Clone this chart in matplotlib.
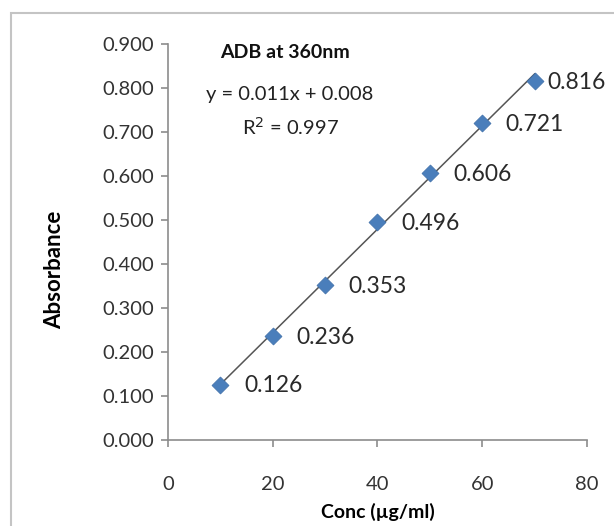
import numpy as np
import matplotlib
matplotlib.use("Agg")
import matplotlib.pyplot as plt
from matplotlib.patches import Rectangle

conc = [10, 20, 30, 40, 50, 60, 70]
absorbance = [0.126, 0.236, 0.353, 0.496, 0.606, 0.721, 0.816]
labels = ["0.126", "0.236", "0.353", "0.496", "0.606", "0.721", "0.816"]
y_ticks = [0.0, 0.1, 0.2, 0.3, 0.4, 0.5, 0.6, 0.7, 0.8, 0.9]
x_ticks = [0, 20, 40, 60, 80]

plt.rcParams['font.family'] = ['Lato', 'DejaVu Sans']

fig = plt.figure(figsize=(6.14, 5.26), dpi=100)
ax = fig.add_axes([0.2736, 0.1635, 0.6824, 0.7529])

# outer chart frame (left and top edges visible)
fig.patches.append(Rectangle((11 / 614, -0.1), 1.2, 1 - 12.5 / 526 + 0.1,
                             transform=fig.transFigure, fill=False,
                             edgecolor="#c4c4c4", linewidth=1.5))

# linear trendline
coef = np.polyfit(conc, absorbance, 1)
xs = np.array([conc[0], conc[-1]])
ax.plot(xs, np.polyval(coef, xs), color="#555555", linewidth=1.1, zorder=2)

ax.scatter(conc, absorbance, marker="D", s=75, color="#4a7ebb",
           edgecolors="#3f6fa8", linewidths=0.5, zorder=3)

for i, (x, y, t) in enumerate(zip(conc, absorbance, labels)):
    dx = 9 if i == len(conc) - 1 else 17
    ax.annotate(t, (x, y), xytext=(dx, -1), textcoords="offset points",
                ha="left", va="center", fontsize=16.5, color="#2a2a2a")

ax.set_xlim(0, 80)
ax.set_ylim(0, 0.9)
ax.set_xticks(x_ticks)
ax.set_yticks(y_ticks)
ax.set_yticklabels(["%.3f" % v for v in y_ticks])

for s in ["top", "right"]:
    ax.spines[s].set_visible(False)
for s in ["left", "bottom"]:
    ax.spines[s].set_color("#8c8c8c")
    ax.spines[s].set_linewidth(1.2)
ax.tick_params(axis="both", colors="#8c8c8c", length=5, width=1.2,
               labelsize=14.5, labelcolor="#333333")
ax.tick_params(axis="x", pad=21)
ax.tick_params(axis="y", pad=5)

ax.set_xlabel("Conc (µg/ml)", fontsize=14, fontweight="bold", labelpad=7)
ax.set_ylabel("Absorbance", fontsize=16, fontweight="bold")
ax.yaxis.set_label_coords(-0.245, 0.43)

fig.text(285 / 614, 1 - 52 / 526, "ADB at 360nm", ha="center", va="center",
         fontsize=14, fontweight="bold", color="#111111")
fig.text(290 / 614, 1 - 95 / 526, "y = 0.011x + 0.008", ha="center",
         va="center", fontsize=14.5, color="#222222")
fig.text(290 / 614, 1 - 127 / 526, "R$^2$ = 0.997", ha="center",
         va="center", fontsize=14.5, color="#222222")

fig.savefig("out.png", dpi=100, facecolor="white")
